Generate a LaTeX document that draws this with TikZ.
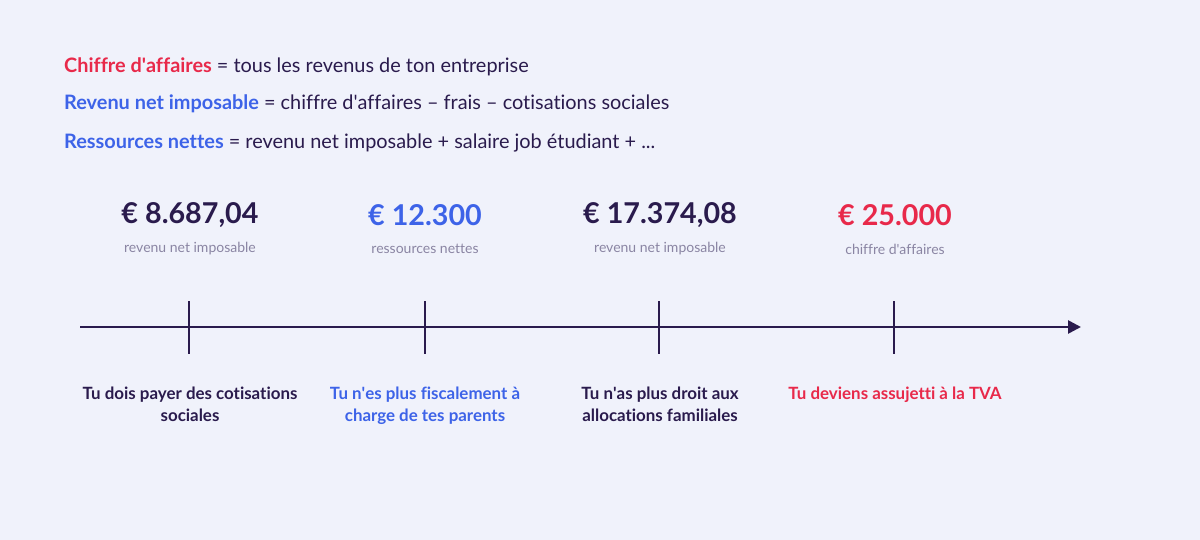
\documentclass[tikz,border=0pt]{standalone}
\usepackage{fontspec}
\setmainfont{Lato}[Ligatures={NoCommon}]
\usetikzlibrary{arrows.meta}
\definecolor{bg}{HTML}{F0F2FB}
\definecolor{navy}{HTML}{2A1B4D}
\definecolor{rouge}{HTML}{E8294A}
\definecolor{bleu}{HTML}{3D63E8}
\definecolor{gris}{HTML}{8A85A3}
\newcommand{\ap}{\textquotesingle}
\tikzset{
  deftext/.style={anchor=west, inner sep=0pt, text=navy, font=\fontsize{19.9}{24}\selectfont},
  amount/.style={inner sep=0pt, font=\fontsize{28.7}{32}\selectfont\bfseries},
  sublabel/.style={inner sep=0pt, text=gris, font=\fontsize{14}{17}\selectfont},
  effect/.style={inner sep=0pt, align=center, font=\fontsize{16.9}{22}\selectfont\bfseries},
  tick/.style={draw=navy, line width=2.6pt},
  axis/.style={draw=navy, line width=2.6pt, -{Triangle[length=13pt,width=13pt]}}
}
\begin{document}
\begin{tikzpicture}[x=1pt,y=-1pt]
\fill[bg] (0,0) rectangle (1200,540);
\useasboundingbox (0,0) rectangle (1200,540);
% definitions
\node[deftext] (d1) at (64,67) {\textcolor{rouge}{\bfseries Chiffre d\ap affaires} = tous les revenus de ton entreprise};
\node[deftext] (d2) at (64,104) {\textcolor{bleu}{\bfseries Revenu net imposable} = chiffre d\ap affaires – frais – cotisations sociales};
\node[deftext] (d3) at (64,143) {\textcolor{bleu}{\bfseries Ressources nettes} = revenu net imposable + salaire job étudiant + ...};
% axis
\coordinate (start) at (80,327);
\coordinate (end) at (1081,327);
\draw[axis] (start) -- (end);
% ticks
\foreach \n/\x in {t1/189, t2/425, t3/659, t4/894}{
  \coordinate (\n top) at (\x,301);
  \coordinate (\n bot) at (\x,354);
  \draw[tick] (\n top) -- (\n bot);
}
% amounts
\node[amount, text=navy] (a1) at (190,215) {€ 8.687,04};
\node[amount, text=bleu] (a2) at (425,215) {€ 12.300};
\node[amount, text=navy] (a3) at (660,215) {€ 17.374,08};
\node[amount, text=rouge] (a4) at (895,215) {€ 25.000};
\node[sublabel] (s1) at (190,249) {revenu net imposable};
\node[sublabel] (s2) at (425,249) {ressources nettes};
\node[sublabel] (s3) at (660,249) {revenu net imposable};
\node[sublabel] (s4) at (895,249) {chiffre d\ap affaires};
% effects
\node[effect, text=navy, anchor=north] (e1) at (190,387) {Tu dois payer des cotisations\\sociales};
\node[effect, text=bleu, anchor=north] (e2) at (425,387) {Tu n\ap es plus fiscalement à\\charge de tes parents};
\node[effect, text=navy, anchor=north] (e3) at (660,387) {Tu n\ap as plus droit aux\\allocations familiales};
\node[effect, text=rouge, anchor=north] (e4) at (895,387) {Tu deviens assujetti à la TVA};
\end{tikzpicture}
\end{document}
